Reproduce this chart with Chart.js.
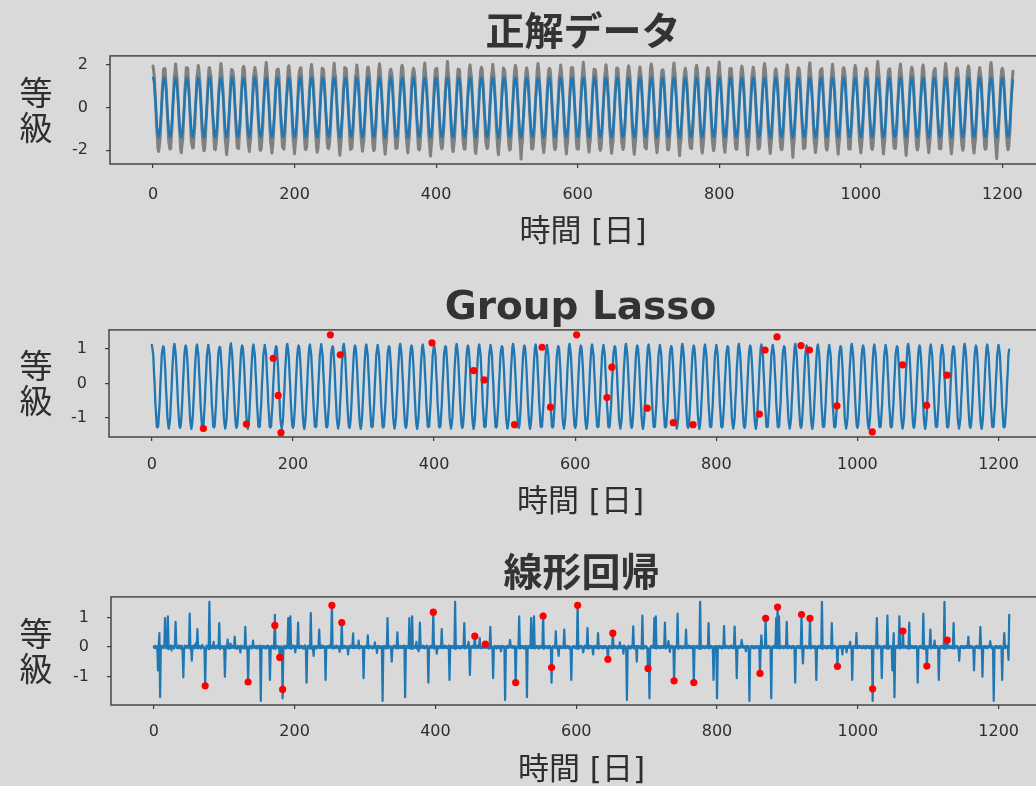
<!DOCTYPE html>
<html>
<head>
<meta charset="utf-8">
<script src="https://cdn.jsdelivr.net/npm/chart.js@4/dist/chart.umd.min.js"></script>
<style>
  html, body { margin: 0; padding: 0; background: #d9d9d9; width: 1036px; height: 786px; overflow: hidden; }
  canvas { position: absolute; left: 0; }
</style>
</head>
<body>
<canvas id="truthChart" width="1056" height="252" style="top:0px"></canvas>
<canvas id="lassoChart" width="1056" height="249" style="top:274px"></canvas>
<canvas id="linearChart" width="1056" height="250" style="top:541px"></canvas>
<script>
// ---- labels ----
const panelTitles = ['正解データ', 'Group Lasso', '線形回帰'];
const xAxisLabel = '時間 [日]';
const yAxisLabel = ['等', '級'];
const xTickValues = [0, 200, 400, 600, 800, 1000, 1200];
const yTicksTruth = [-2, 0, 2];
const yTicksLasso = [-1, 0, 1];
const yTicksLinear = [-1, 0, 1];

// ---- daily series, in hundredths (day = index, 16 days per row) ----
// noisy observations
const observed = [
195,169,140,63,2,-87,-136,-191,-206,-179,-149,-74,-11,77,127,180,
183,182,126,78,-14,-71,-152,-177,-195,-192,-136,-88,3,62,141,168,
204,164,138,66,6,-84,-131,-194,-212,-176,-151,-69,-15,80,124,186,
178,185,129,72,-9,-78,-155,-175,-190,-188,-132,-90,6,59,144,164,
197,171,131,79,-2,-91,-139,-183,-203,-197,-147,-71,-8,71,130,182,
187,160,145,60,-16,-70,-141,-195,-198,-174,-138,-92,1,83,121,171,
206,178,125,74,8,-83,-150,-180,-221,-186,-154,-76,-13,66,139,178,
176,167,142,64,-12,-77,-133,-189,-187,-193,-129,-84,4,75,126,186,
193,184,128,69,3,-89,-145,-178,-208,-171,-146,-67,-18,68,142,167,
188,165,139,81,-7,-72,-137,-196,-201,-190,-141,-93,-2,61,128,181,
211,173,130,58,5,-86,-153,-182,-214,-181,-136,-74,-9,84,135,176,
179,180,144,76,-15,-79,-130,-187,-189,-195,-150,-81,7,64,123,185,
196,163,127,67,1,-92,-148,-179,-217,-172,-142,-89,-16,73,145,166,
185,186,140,62,-10,-69,-140,-193,-197,-187,-133,-70,0,79,122,179,
202,170,135,80,4,-85,-134,-184,-210,-194,-157,-82,-7,65,137,184,
181,176,124,65,-17,-76,-156,-190,-193,-178,-139,-78,5,70,131,170,
208,162,143,71,6,-88,-132,-181,-224,-183,-145,-71,-12,82,126,188,
177,183,132,59,-8,-74,-149,-197,-188,-191,-138,-91,-1,60,143,163,
199,174,128,77,-3,-83,-144,-176,-205,-175,-152,-75,-14,74,134,183,
190,168,146,63,-13,-70,-135,-188,-202,-196,-131,-86,4,67,125,177,
205,179,126,72,7,-90,-154,-185,-219,-180,-147,-79,-10,78,140,172,
180,164,137,68,-11,-77,-138,-192,-191,-189,-143,-84,2,63,129,187,
198,181,131,75,2,-81,-146,-179,-213,-173,-140,-72,-17,81,136,169,
184,172,141,61,-14,-73,-136,-194,-199,-192,-134,-87,6,69,124,182,
209,166,129,73,5,-86,-151,-186,-228,-184,-155,-80,-9,72,138,178,
182,184,139,66,-6,-78,-142,-181,-194,-186,-137,-89,-3,76,130,165,
216,170,134,70,3,-82,-139,-190,-207,-177,-144,-76,-13,64,139,180,
178,177,127,79,-12,-75,-148,-183,-196,-193,-132,-83,5,71,127,184,
200,165,143,62,-4,-87,-135,-195,-216,-181,-149,-70,-11,80,133,174,
189,180,130,74,-15,-71,-153,-178,-192,-188,-140,-92,3,65,142,168,
203,173,138,67,6,-84,-141,-191,-222,-176,-146,-78,-8,77,125,185,
181,169,125,76,-9,-79,-137,-186,-200,-194,-135,-85,-1,62,137,177,
197,182,140,64,1,-90,-150,-180,-242,-182,-153,-73,-14,74,131,171,
186,167,133,78,-13,-72,-134,-193,-195,-187,-139,-88,4,68,128,183,
207,175,127,71,5,-85,-147,-184,-211,-178,-142,-77,-10,79,136,175,
183,178,144,60,-10,-76,-143,-189,-198,-191,-133,-82,0,66,140,166,
199,166,131,74,3,-88,-136,-182,-218,-179,-150,-71,-16,73,126,186,
188,184,136,65,-14,-70,-152,-194,-193,-195,-137,-90,6,70,135,172,
212,171,128,77,4,-83,-140,-179,-209,-174,-145,-79,-7,82,129,179,
179,176,142,63,-11,-78,-145,-192,-201,-190,-141,-86,-2,61,143,169,
201,168,134,72,6,-89,-133,-185,-215,-183,-156,-74,-12,76,123,184,
185,181,125,68,-8,-73,-154,-181,-197,-186,-130,-87,5,67,138,176,
196,173,141,75,2,-84,-139,-190,-220,-177,-148,-80,-15,78,132,170,
190,163,130,62,-16,-77,-137,-187,-190,-194,-136,-84,2,64,127,188,
204,183,137,79,7,-86,-149,-178,-212,-180,-144,-72,-9,71,141,173,
177,170,128,66,-7,-71,-142,-196,-199,-189,-139,-91,-3,80,125,181,
209,177,145,70,4,-82,-134,-183,-226,-175,-151,-76,-13,69,136,167,
184,166,126,73,-13,-80,-155,-186,-192,-193,-134,-83,4,63,130,185,
198,180,139,61,1,-88,-138,-192,-214,-184,-147,-70,-8,84,128,177,
187,174,132,77,-9,-74,-146,-180,-203,-187,-142,-89,0,66,144,171,
213,164,127,69,6,-85,-151,-189,-210,-172,-140,-78,-14,72,133,183,
180,182,143,64,-12,-70,-136,-184,-196,-196,-137,-85,3,75,122,175,
194,172,133,76,2,-90,-143,-177,-223,-181,-153,-73,-10,62,139,168,
189,169,129,67,-15,-77,-147,-195,-194,-185,-131,-92,5,70,131,186,
206,185,140,72,5,-83,-135,-182,-216,-179,-146,-77,-11,79,127,172,
182,165,126,78,-8,-72,-150,-188,-198,-192,-140,-84,-2,64,142,180,
200,176,136,60,3,-87,-141,-180,-234,-176,-148,-71,-15,77,134,170,
186,179,144,74,-13,-75,-133,-193,-191,-190,-136,-90,4,68,124,184,
210,167,128,69,6,-84,-154,-185,-211,-183,-144,-79,-8,73,137,175,
178,183,138,65,-10,-71,-139,-190,-200,-188,-138,-83,1,65,129,167,
203,171,131,77,4,-89,-146,-179,-219,-174,-150,-74,-12,81,140,182,
187,168,142,63,-14,-77,-137,-194,-195,-195,-132,-88,3,62,126,176,
197,184,127,73,1,-82,-152,-184,-213,-181,-143,-76,-9,74,135,169,
183,170,135,68,-9,-73,-140,-187,-197,-186,-141,-86,-1,69,131,187,
216,174,140,71,5,-86,-135,-181,-218,-178,-149,-72,-14,78,127,173,
180,181,129,75,-12,-78,-148,-191,-192,-191,-134,-91,6,66,143,180,
204,166,134,62,3,-85,-142,-183,-225,-183,-152,-75,-10,71,130,171,
189,177,143,79,-15,-70,-138,-189,-199,-187,-139,-82,2,63,125,185,
199,172,126,67,4,-90,-150,-178,-212,-177,-145,-78,-13,80,138,168,
182,183,137,70,-8,-74,-136,-192,-194,-194,-137,-89,-3,67,133,183,
207,169,132,76,6,-83,-147,-186,-217,-180,-148,-73,-7,75,128,174,
185,175,141,61,-11,-79,-141,-181,-201,-188,-131,-87,4,64,141,179,
195,180,128,73,2,-87,-153,-190,-214,-175,-151,-79,-16,79,134,167,
188,164,139,66,-13,-71,-134,-185,-196,-193,-138,-84,1,68,123,186,
211,178,133,78,5,-85,-145,-193,-240,-182,-146,-74,-11,72,139,176,
184,171,130,64,-9,-76,-139,-180,-198,-186,-140,-90,3,66,132,170
];

// underlying seasonal signal
const truth = [
140,129,99,54,0,-54,-99,-129,-140,-129,-99,-54,0,54,99,129,
141,128,100,53,1,-55,-98,-130,-139,-130,-98,-55,1,53,100,128,
140,129,99,54,0,-54,-99,-129,-140,-129,-99,-54,0,54,99,129,
141,128,100,53,1,-55,-98,-130,-139,-130,-98,-55,1,53,100,128,
140,129,99,54,0,-54,-99,-129,-140,-129,-99,-54,0,54,99,129,
141,128,100,53,1,-55,-98,-130,-139,-130,-98,-55,1,53,100,128,
140,129,99,54,0,-54,-99,-129,-140,-129,-99,-54,0,54,99,129,
141,128,100,53,1,-55,-98,-130,-139,-130,-98,-55,1,53,100,128,
140,129,99,54,0,-54,-99,-129,-140,-129,-99,-54,0,54,99,129,
141,128,100,53,1,-55,-98,-130,-139,-130,-98,-55,1,53,100,128,
140,129,99,54,0,-54,-99,-129,-140,-129,-99,-54,0,54,99,129,
141,128,100,53,1,-55,-98,-130,-139,-130,-98,-55,1,53,100,128,
140,129,99,54,0,-54,-99,-129,-140,-129,-99,-54,0,54,99,129,
141,128,100,53,1,-55,-98,-130,-139,-130,-98,-55,1,53,100,128,
140,129,99,54,0,-54,-99,-129,-140,-129,-99,-54,0,54,99,129,
141,128,100,53,1,-55,-98,-130,-139,-130,-98,-55,1,53,100,128,
140,129,99,54,0,-54,-99,-129,-140,-129,-99,-54,0,54,99,129,
141,128,100,53,1,-55,-98,-130,-139,-130,-98,-55,1,53,100,128,
140,129,99,54,0,-54,-99,-129,-140,-129,-99,-54,0,54,99,129,
141,128,100,53,1,-55,-98,-130,-139,-130,-98,-55,1,53,100,128,
140,129,99,54,0,-54,-99,-129,-140,-129,-99,-54,0,54,99,129,
141,128,100,53,1,-55,-98,-130,-139,-130,-98,-55,1,53,100,128,
140,129,99,54,0,-54,-99,-129,-140,-129,-99,-54,0,54,99,129,
141,128,100,53,1,-55,-98,-130,-139,-130,-98,-55,1,53,100,128,
140,129,99,54,0,-54,-99,-129,-140,-129,-99,-54,0,54,99,129,
141,128,100,53,1,-55,-98,-130,-139,-130,-98,-55,1,53,100,128,
140,129,99,54,0,-54,-99,-129,-140,-129,-99,-54,0,54,99,129,
141,128,100,53,1,-55,-98,-130,-139,-130,-98,-55,1,53,100,128,
140,129,99,54,0,-54,-99,-129,-140,-129,-99,-54,0,54,99,129,
141,128,100,53,1,-55,-98,-130,-139,-130,-98,-55,1,53,100,128,
140,129,99,54,0,-54,-99,-129,-140,-129,-99,-54,0,54,99,129,
141,128,100,53,1,-55,-98,-130,-139,-130,-98,-55,1,53,100,128,
140,129,99,54,0,-54,-99,-129,-140,-129,-99,-54,0,54,99,129,
141,128,100,53,1,-55,-98,-130,-139,-130,-98,-55,1,53,100,128,
140,129,99,54,0,-54,-99,-129,-140,-129,-99,-54,0,54,99,129,
141,128,100,53,1,-55,-98,-130,-139,-130,-98,-55,1,53,100,128,
140,129,99,54,0,-54,-99,-129,-140,-129,-99,-54,0,54,99,129,
141,128,100,53,1,-55,-98,-130,-139,-130,-98,-55,1,53,100,128,
140,129,99,54,0,-54,-99,-129,-140,-129,-99,-54,0,54,99,129,
141,128,100,53,1,-55,-98,-130,-139,-130,-98,-55,1,53,100,128,
140,129,99,54,0,-54,-99,-129,-140,-129,-99,-54,0,54,99,129,
141,128,100,53,1,-55,-98,-130,-139,-130,-98,-55,1,53,100,128,
140,129,99,54,0,-54,-99,-129,-140,-129,-99,-54,0,54,99,129,
141,128,100,53,1,-55,-98,-130,-139,-130,-98,-55,1,53,100,128,
140,129,99,54,0,-54,-99,-129,-140,-129,-99,-54,0,54,99,129,
141,128,100,53,1,-55,-98,-130,-139,-130,-98,-55,1,53,100,128,
140,129,99,54,0,-54,-99,-129,-140,-129,-99,-54,0,54,99,129,
141,128,100,53,1,-55,-98,-130,-139,-130,-98,-55,1,53,100,128,
140,129,99,54,0,-54,-99,-129,-140,-129,-99,-54,0,54,99,129,
141,128,100,53,1,-55,-98,-130,-139,-130,-98,-55,1,53,100,128,
140,129,99,54,0,-54,-99,-129,-140,-129,-99,-54,0,54,99,129,
141,128,100,53,1,-55,-98,-130,-139,-130,-98,-55,1,53,100,128,
140,129,99,54,0,-54,-99,-129,-140,-129,-99,-54,0,54,99,129,
141,128,100,53,1,-55,-98,-130,-139,-130,-98,-55,1,53,100,128,
140,129,99,54,0,-54,-99,-129,-140,-129,-99,-54,0,54,99,129,
141,128,100,53,1,-55,-98,-130,-139,-130,-98,-55,1,53,100,128,
140,129,99,54,0,-54,-99,-129,-140,-129,-99,-54,0,54,99,129,
141,128,100,53,1,-55,-98,-130,-139,-130,-98,-55,1,53,100,128,
140,129,99,54,0,-54,-99,-129,-140,-129,-99,-54,0,54,99,129,
141,128,100,53,1,-55,-98,-130,-139,-130,-98,-55,1,53,100,128,
140,129,99,54,0,-54,-99,-129,-140,-129,-99,-54,0,54,99,129,
141,128,100,53,1,-55,-98,-130,-139,-130,-98,-55,1,53,100,128,
140,129,99,54,0,-54,-99,-129,-140,-129,-99,-54,0,54,99,129,
141,128,100,53,1,-55,-98,-130,-139,-130,-98,-55,1,53,100,128,
140,129,99,54,0,-54,-99,-129,-140,-129,-99,-54,0,54,99,129,
141,128,100,53,1,-55,-98,-130,-139,-130,-98,-55,1,53,100,128,
140,129,99,54,0,-54,-99,-129,-140,-129,-99,-54,0,54,99,129,
141,128,100,53,1,-55,-98,-130,-139,-130,-98,-55,1,53,100,128,
140,129,99,54,0,-54,-99,-129,-140,-129,-99,-54,0,54,99,129,
141,128,100,53,1,-55,-98,-130,-139,-130,-98,-55,1,53,100,128,
140,129,99,54,0,-54,-99,-129,-140,-129,-99,-54,0,54,99,129,
141,128,100,53,1,-55,-98,-130,-139,-130,-98,-55,1,53,100,128,
140,129,99,54,0,-54,-99,-129,-140,-129,-99,-54,0,54,99,129,
141,128,100,53,1,-55,-98,-130,-139,-130,-98,-55,1,53,100,128,
140,129,99,54,0,-54,-99,-129,-140,-129,-99,-54,0,54,99,129,
141,128,100,53,1,-55,-98,-130,-139,-130,-98,-55,1,53,100,128
];

// group lasso fit
const lassoFit = [
// days 0-79
112,98,82,33,-4,-60,-90,-126,-128,-124,-90,-60,-4,33,82,98,
108,104,74,41,-12,-51,-98,-118,-131,-119,-99,-50,-13,41,73,106,
115,100,79,35,-7,-57,-93,-123,-129,-122,-94,-57,-6,36,79,101,
110,102,76,39,-10,-53,-96,-120,-132,-120,-96,-53,-11,38,76,104,
113,97,81,34,-5,-59,-91,-125,-127,-125,-91,-59,-5,34,81,97,
// days 80-159
112,98,82,33,-4,-60,-90,-126,-128,-124,-90,-60,-4,33,82,98,
106,104,74,41,-12,-51,-98,-118,-131,-119,-99,-50,-13,41,73,106,
116,100,79,35,-7,-57,-93,-123,-129,-122,-94,-57,-6,36,79,101,
110,102,76,39,-10,-53,-96,-120,-132,-120,-96,-53,-11,38,76,104,
113,97,81,34,-5,-59,-91,-125,-127,-125,-91,-59,-5,34,81,97,
// days 160-239
112,98,82,33,-4,-60,-90,-126,-128,-124,-90,-60,-4,33,82,98,
108,104,74,41,-12,-51,-98,-118,-131,-119,-99,-50,-13,41,73,106,
115,100,79,35,-7,-57,-93,-123,-129,-122,-94,-57,-6,36,79,101,
110,102,76,39,-10,-53,-96,-120,-132,-120,-96,-53,-11,38,76,104,
113,97,81,34,-5,-59,-91,-125,-127,-125,-91,-59,-5,34,81,97,
// days 240-319
114,98,82,33,-4,-60,-90,-126,-128,-124,-90,-60,-4,33,82,98,
108,104,74,41,-12,-51,-98,-118,-131,-119,-99,-50,-13,41,73,106,
115,100,79,35,-7,-57,-93,-123,-129,-122,-94,-57,-6,36,79,101,
110,102,76,39,-10,-53,-96,-120,-132,-120,-96,-53,-11,38,76,104,
113,97,81,34,-5,-59,-91,-125,-127,-125,-91,-59,-5,34,81,97,
// days 320-399
112,98,82,33,-4,-60,-90,-126,-128,-124,-90,-60,-4,33,82,98,
108,104,74,41,-12,-51,-98,-118,-131,-119,-99,-50,-13,41,73,106,
115,100,79,35,-7,-57,-93,-123,-129,-122,-94,-57,-6,36,79,101,
110,102,76,39,-10,-53,-96,-120,-132,-120,-96,-53,-11,38,76,104,
113,97,81,34,-5,-59,-91,-125,-127,-125,-91,-59,-5,34,81,97,
// days 400-479
112,98,82,33,-4,-60,-90,-126,-128,-124,-90,-60,-4,33,82,98,
108,104,74,41,-12,-51,-98,-118,-131,-119,-99,-50,-13,41,73,106,
115,100,79,35,-7,-57,-93,-123,-129,-122,-94,-57,-6,36,79,101,
110,102,76,39,-10,-53,-96,-120,-132,-120,-96,-53,-11,38,76,104,
113,97,81,34,-5,-59,-91,-125,-127,-125,-91,-59,-5,34,81,97,
// days 480-559
112,98,82,33,-4,-60,-90,-126,-128,-124,-90,-60,-4,33,82,98,
108,104,74,41,-12,-51,-98,-118,-131,-119,-99,-50,-13,41,73,106,
115,100,79,35,-7,-57,-93,-123,-129,-122,-94,-57,-6,36,79,101,
110,102,76,39,-10,-53,-96,-120,-132,-120,-96,-53,-11,38,76,104,
113,97,81,34,-5,-59,-91,-125,-127,-125,-91,-59,-5,34,81,97,
// days 560-639
112,98,82,33,-4,-60,-90,-126,-128,-124,-90,-60,-4,33,82,98,
108,104,74,41,-12,-51,-98,-118,-131,-119,-99,-50,-13,41,73,106,
115,100,79,35,-7,-57,-93,-123,-129,-122,-94,-57,-6,36,79,101,
110,102,76,39,-10,-53,-96,-120,-132,-120,-96,-53,-11,38,76,104,
113,97,81,34,-5,-59,-91,-125,-127,-125,-91,-59,-5,34,81,97,
// days 640-719
112,98,82,33,-4,-60,-90,-126,-128,-124,-90,-60,-4,33,82,98,
108,104,74,41,-12,-51,-98,-118,-131,-119,-99,-50,-13,41,73,106,
115,100,79,35,-7,-57,-93,-123,-129,-122,-94,-57,-6,36,79,101,
110,102,76,39,-10,-53,-96,-120,-132,-120,-96,-53,-11,38,76,104,
113,97,81,34,-5,-59,-91,-125,-127,-125,-91,-59,-5,34,81,97,
// days 720-799
112,98,82,33,-4,-60,-90,-126,-128,-124,-90,-60,-4,33,82,98,
108,104,74,41,-12,-51,-98,-118,-131,-119,-99,-50,-13,41,73,106,
115,100,79,35,-7,-57,-93,-123,-129,-122,-94,-57,-6,36,79,101,
110,102,76,39,-10,-53,-96,-120,-132,-120,-96,-53,-11,38,76,104,
113,97,81,34,-5,-59,-91,-125,-127,-125,-91,-59,-5,34,81,97,
// days 800-879
112,98,82,33,-4,-60,-90,-126,-128,-124,-90,-60,-4,33,82,98,
108,104,74,41,-12,-51,-98,-118,-131,-119,-99,-50,-13,41,73,106,
115,100,79,35,-7,-57,-93,-123,-129,-122,-94,-57,-6,36,79,101,
110,102,76,39,-10,-53,-96,-120,-132,-120,-96,-53,-11,38,76,104,
113,97,81,34,-5,-59,-91,-125,-127,-125,-91,-59,-5,34,81,97,
// days 880-959
112,98,82,33,-4,-60,-90,-126,-128,-124,-90,-60,-4,33,82,98,
108,104,74,41,-12,-51,-98,-118,-131,-119,-99,-50,-13,41,73,106,
115,100,79,35,-7,-57,-93,-123,-129,-122,-94,-57,-6,36,79,101,
110,102,76,39,-10,-53,-96,-120,-132,-120,-96,-53,-11,38,76,104,
113,97,81,34,-5,-59,-91,-125,-127,-125,-91,-59,-5,34,81,97,
// days 960-1039
112,98,82,33,-4,-60,-90,-126,-128,-124,-90,-60,-4,33,82,98,
108,104,74,41,-12,-51,-98,-118,-131,-119,-99,-50,-13,41,73,106,
115,100,79,35,-7,-57,-93,-123,-129,-122,-94,-57,-6,36,79,101,
110,102,76,39,-10,-53,-96,-120,-132,-120,-96,-53,-11,38,76,104,
113,97,81,34,-5,-59,-91,-125,-127,-125,-91,-59,-5,34,81,97,
// days 1040-1119
112,98,82,33,-4,-60,-90,-126,-128,-124,-90,-60,-4,33,82,98,
108,104,74,41,-12,-51,-98,-118,-131,-119,-99,-50,-13,41,73,106,
115,100,79,35,-7,-57,-93,-123,-129,-122,-94,-57,-6,36,79,101,
110,102,76,39,-10,-53,-96,-120,-132,-120,-96,-53,-11,38,76,104,
113,97,81,34,-5,-59,-91,-125,-127,-125,-91,-59,-5,34,81,97,
// days 1120-1199
112,98,82,33,-4,-60,-90,-126,-128,-124,-90,-60,-4,33,82,98,
108,104,74,41,-12,-51,-98,-118,-131,-119,-99,-50,-13,41,73,106,
115,100,79,35,-7,-57,-93,-123,-129,-122,-94,-57,-6,36,79,101,
110,102,76,39,-10,-53,-96,-120,-132,-120,-96,-53,-11,38,76,104,
113,97,81,34,-5,-59,-91,-125,-127,-125,-91,-59,-5,34,81,97,
// days 1200-1215
112,98,82,33,-4,-60,-90,-126,-128,-124,-90,-60,-4,33,82,98
];

// ordinary linear regression fit
const linearFit = [
2,-3,4,1,-5,3,-79,6,47,-169,-8,4,-2,3,-4,5,
98,6,-4,2,104,-7,3,-2,5,-12,4,-3,2,-5,8,85,
9,-3,2,-4,6,-2,3,-6,4,-20,-102,-9,5,-3,2,4,
-3,5,-2,113,-6,4,-46,3,-2,6,-4,2,14,-3,61,-5,
4,-2,3,-5,2,7,-3,1,-8,-131,-12,5,-2,4,-6,153,
-6,3,-2,5,-4,18,-3,2,-5,4,-2,6,-3,81,-7,2,
4,-3,2,-6,3,-100,-14,5,-2,25,-4,2,-5,12,-3,4,
-2,5,-3,35,-4,2,-6,3,-2,4,-3,-18,5,-2,3,-4,
2,-4,68,-5,3,-2,-118,-10,4,-3,2,-5,3,22,-2,4,
-3,2,-5,4,-2,3,-6,5,-182,-12,3,-2,4,-3,2,-5,
3,-2,5,-4,2,-111,-8,4,-3,2,-5,14,109,-6,3,-2,
4,-3,2,-43,-5,3,-2,-173,-9,4,-3,2,-5,6,-2,98,
-4,3,104,-6,2,-3,5,-2,4,-18,3,-2,5,83,-4,2,
-3,4,-2,3,-5,2,-4,6,-3,-120,-7,4,-2,3,-5,115,
-5,3,-2,-30,4,-3,2,-5,3,-2,6,59,-4,2,-3,5,
-2,4,-3,2,-111,-6,3,-2,4,-3,5,-2,20,147,-5,3,
-4,2,-3,5,-2,3,-4,2,-16,3,-2,89,-5,3,-2,4,
-3,2,-4,3,-25,2,-3,5,-2,4,-3,47,-4,2,-3,5,
-2,3,-4,22,-5,3,-2,4,-3,2,-105,-8,3,-2,4,-3,
40,-5,3,-2,4,-3,2,-5,3,-2,16,-3,2,-20,3,-2,
4,-3,2,-5,3,-182,-10,4,-2,3,-5,2,98,-4,3,-2,
3,-4,-49,2,-3,5,-2,3,-4,2,50,-5,3,-2,4,-3,
2,-3,4,-2,5,-169,-9,3,-2,4,-3,98,-5,2,-4,104,
-6,3,-2,4,-3,18,-5,3,-14,2,83,-4,3,-2,5,-3,
2,-4,3,-2,5,-3,-120,-6,3,-2,4,-3,2,120,-5,3,
-2,4,-22,2,-5,3,-2,4,-3,61,-4,2,-3,5,-2,3,
-4,2,-3,5,-111,-7,3,-2,4,-3,2,-5,153,-6,3,-2,
4,-3,2,-5,3,-2,4,-3,2,81,-5,3,-2,4,-3,18,
-3,-94,-6,3,-2,4,-3,2,37,-4,3,-2,5,-3,2,30,
-3,2,-4,3,-2,5,-3,10,-2,4,-3,2,-5,3,68,-4,
3,-2,-105,-8,4,-3,2,-5,3,-2,4,-3,2,-14,3,-2,
4,-3,2,-179,-11,3,-2,4,-3,2,24,3,-2,4,-3,2,
-4,3,-120,-6,2,-3,5,104,-5,2,-3,4,-2,3,-5,2,
-3,4,-169,-8,3,-2,4,-3,98,-4,2,-3,104,-5,3,-2,
4,-3,2,-5,3,-2,4,-3,2,113,-6,3,-2,4,-3,2,
-4,3,-2,4,-3,-120,-7,3,-2,4,-3,53,-4,2,-3,-30,
4,-2,3,-4,2,-3,5,59,-4,2,-3,4,-2,3,-5,2,
-3,-111,-6,3,-2,4,-3,2,-5,3,149,-6,2,-3,4,-2,
3,-4,-18,-3,5,-2,3,-4,64,-5,2,-3,4,-2,3,-4,
-25,3,-2,4,-3,2,-4,47,-5,3,-2,4,-3,2,-5,3,
-2,4,-3,2,-4,-49,3,-2,4,-3,2,-5,52,-4,3,-2,
4,-3,2,-5,3,-2,16,-3,2,-4,3,-22,5,-3,2,-4,
-179,-10,4,-3,2,-5,3,-2,4,70,-5,3,-2,4,-49,3,
-2,4,-3,2,-5,3,106,-6,3,-2,4,-3,2,-5,-75,-4,
-173,-9,3,-2,4,-3,2,98,-4,104,-5,3,-2,4,-3,2,
-4,3,-2,4,-3,2,83,-5,3,-2,4,20,2,-16,3,-2,
4,-3,2,-115,-7,3,-2,4,113,-6,3,-2,4,-3,2,-5,
3,-2,4,-3,59,-4,2,-3,5,-2,3,-4,2,-3,4,-120,
-7,3,-2,4,-3,2,-5,3,153,-6,3,-2,4,-3,2,-4,
3,-2,4,-3,81,-5,3,-2,4,-3,2,-111,-8,3,-2,4,
-173,-9,3,-2,4,-3,2,-5,3,-2,71,-4,3,-2,4,-3,
2,-4,3,-2,5,-3,2,-4,3,69,-5,3,-105,-7,3,-2,
4,-3,2,24,3,-2,4,-3,2,-14,3,-2,4,-3,-182,-11,
3,-2,4,-3,2,-5,3,-2,4,-3,2,-4,3,-89,-5,40,
-3,2,-4,3,-2,98,-5,3,-2,4,-3,2,-4,-173,-9,3,
-2,4,-3,2,98,-4,136,-3,104,-5,3,-2,4,-3,2,-4,
3,-2,4,85,-5,3,-2,4,-3,2,-4,3,-2,4,-3,-120,
-7,3,-2,4,-3,2,-4,3,113,-6,-55,-4,3,-2,4,-3,
2,-4,3,-2,98,-5,3,-2,4,-3,2,-4,3,-111,-7,3,
-2,4,-3,2,-4,153,-6,3,-2,4,-3,2,-5,3,-2,4,
-3,2,-4,81,-5,3,-2,4,-3,2,-4,-67,-5,3,-2,4,
-3,2,-25,3,-2,4,-3,2,-18,3,-2,4,-3,18,-2,3,
-111,-8,3,-2,4,-3,47,-4,2,-3,5,-2,3,-4,2,-3,
4,-3,2,-5,3,-2,4,-3,2,-4,3,-2,4,-182,-11,3,
-2,4,-3,98,-5,3,-2,4,-3,2,-105,-7,3,-2,4,-3,
2,-4,106,-6,3,-2,4,-3,2,-79,-4,47,-169,-9,3,-2,
4,-3,2,104,-5,3,-2,4,56,-4,3,-2,4,-3,2,-5,
3,83,-5,3,-2,4,-3,2,-4,3,-2,4,-3,-120,-7,3,
-2,4,-3,2,-4,113,-6,3,-2,4,-65,-4,3,-2,4,59,
-5,3,-2,4,-3,22,-4,3,-2,4,-3,-111,-8,3,-2,4,
-3,2,-4,153,-6,3,-2,25,-4,3,-2,4,-3,2,-4,3,
81,-5,3,-2,4,-3,2,-4,-46,-4,3,-2,4,-3,2,-4,
3,-2,4,-3,2,35,-4,3,-2,4,-3,2,-4,-79,-5,3,
-2,4,-3,2,-4,3,68,-5,3,-100,-8,3,-2,4,-3,2,
-4,3,-2,4,20,2,-4,3,-2,-182,-11,3,-2,4,-3,2,
-4,3,-2,4,-3,-111,-7,3,47,-4,3,-2,4,-3,-43,109
];

// sparse sample points (day, value)
const sampleDays = [73,134,172,179,183,253,267,397,456,471,514,553,565,602,645,652,702,739,767,861,869,886,920,932,971,1021,1064,1098,1127];
const sampleValues = [-1.31,-1.18,0.73,-0.35,-1.43,1.41,0.83,1.18,0.37,0.10,-1.20,1.05,-0.69,1.41,-0.41,0.47,-0.72,-1.14,-1.20,-0.89,0.97,1.35,1.10,0.97,-0.65,-1.41,0.54,-0.64,0.24];

// ---- drawing ----
const INK = '#2e2e2e';
const FRAME = '#3c3c3c';
const BLUE = '#1f77b4';
const GRAY = '#808080';
const FONT = "'DejaVu Sans', 'Noto Sans CJK JP', sans-serif";
const CJK = "'Noto Sans CJK JP', sans-serif";

const toPoints = arr => arr.map((v, i) => ({ x: i, y: v / 100 }));
const samplePoints = sampleDays.map((d, i) => ({ x: d, y: sampleValues[i] }));

const framePlugin = {
  id: 'frame',
  afterDatasetsDraw(chart) {
    const { ctx, chartArea: a } = chart;
    ctx.save();
    ctx.strokeStyle = FRAME;
    ctx.lineWidth = 1.4;
    ctx.strokeRect(a.left, a.top, a.right - a.left, a.bottom - a.top);
    ctx.restore();
  }
};

const sideLabelPlugin = {
  id: 'sideLabel',
  afterDraw(chart) {
    const { ctx, chartArea: a } = chart;
    const mid = (a.top + a.bottom) / 2;
    ctx.save();
    ctx.font = '33px ' + CJK;
    ctx.fillStyle = INK;
    ctx.textAlign = 'center';
    ctx.textBaseline = 'middle';
    ctx.fillText(yAxisLabel[0], 36, mid - 17.5);
    ctx.fillText(yAxisLabel[1], 36, mid + 17.5);
    ctx.restore();
  }
};

// a tiny tension keeps every daily point in the stroked path
function lineSet(values, color, width) {
  return {
    type: 'line', data: toPoints(values), borderColor: color, borderWidth: width,
    pointRadius: 0, tension: 0.000001, borderJoinStyle: 'round', borderCapStyle: 'round', fill: false
  };
}

function sampleSet() {
  return {
    type: 'line', data: samplePoints, showLine: false, pointRadius: 3.6,
    pointBackgroundColor: '#ff0000', pointBorderWidth: 0, pointBorderColor: '#ff0000'
  };
}

function panel(id, cfg) {
  return new Chart(document.getElementById(id), {
    type: 'line',
    data: { datasets: cfg.datasets },
    options: {
      responsive: false,
      animation: false,
      events: [],
      layout: { padding: 0 },
      plugins: {
        legend: { display: false },
        tooltip: { enabled: false },
        title: {
          display: true, text: cfg.title, fullSize: false, color: '#333333',
          font: { family: FONT, size: 39, weight: 'bold', lineHeight: 1.1 },
          padding: { top: 13, bottom: 0 }
        }
      },
      scales: {
        x: {
          type: 'linear', min: -60.75, max: 1275.75,
          afterBuildTicks: s => { s.ticks = xTickValues.map(v => ({ value: v })); },
          afterFit: s => { s.height = cfg.axisHeight; },
          ticks: { color: INK, font: { family: FONT, size: 16 }, padding: cfg.xTickPad, maxRotation: 0, autoSkip: false, callback: v => String(v) },
          grid: { drawOnChartArea: false, drawTicks: true, tickLength: 4, color: FRAME, lineWidth: 1.2 },
          border: { display: false },
          title: { display: true, text: xAxisLabel, color: INK, font: { family: FONT, size: 31, lineHeight: 1.2 }, padding: { top: 0, bottom: cfg.xTitlePad } }
        },
        y: {
          type: 'linear', min: cfg.yMin, max: cfg.yMax,
          afterBuildTicks: s => { s.ticks = cfg.yTicks.map(v => ({ value: v })); },
          afterFit: s => { s.width = cfg.left; },
          ticks: { color: INK, font: { family: FONT, size: 16 }, padding: 18, callback: v => String(v) },
          grid: { drawOnChartArea: false, drawTicks: true, tickLength: 4, color: FRAME, lineWidth: 1.2 },
          border: { display: false }
        }
      }
    },
    plugins: [framePlugin, sideLabelPlugin]
  });
}

panel('truthChart', {
  title: panelTitles[0], left: 110, yMin: -2.65, yMax: 2.42, yTicks: yTicksTruth,
  axisHeight: 88, xTickPad: 17, xTitlePad: 0,
  datasets: [lineSet(truth, BLUE, 2.4), lineSet(observed, GRAY, 3)]
});

panel('lassoChart', {
  title: panelTitles[1], left: 109, yMin: -1.557, yMax: 1.554, yTicks: yTicksLasso,
  axisHeight: 86, xTickPad: 14, xTitlePad: 1,
  datasets: [sampleSet(), lineSet(lassoFit, BLUE, 2.3)]
});

panel('linearChart', {
  title: panelTitles[2], left: 111, yMin: -1.956, yMax: 1.695, yTicks: yTicksLinear,
  axisHeight: 86, xTickPad: 13, xTitlePad: 1,
  datasets: [sampleSet(), lineSet(linearFit, BLUE, 2.2)]
});
</script>
</body>
</html>
